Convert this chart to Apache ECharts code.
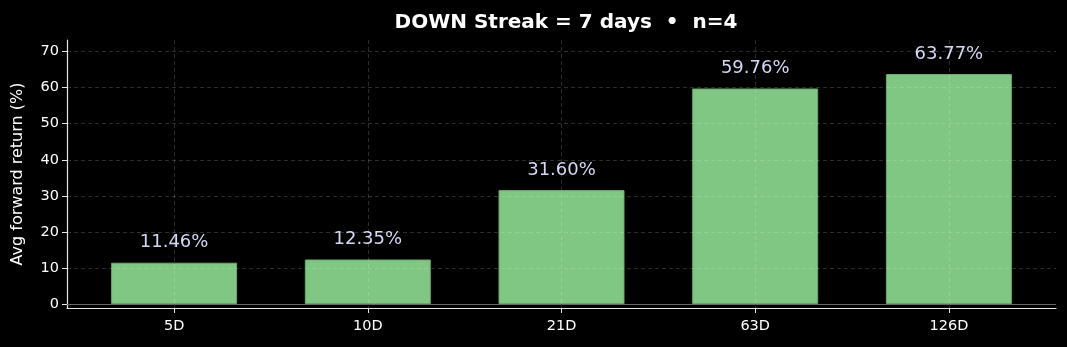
<!DOCTYPE html>
<html><head><meta charset="utf-8">
<script src="https://cdn.jsdelivr.net/npm/echarts@6/dist/echarts.min.js"></script>
<style>html,body{margin:0;padding:0;background:#000;}#c{width:1067px;height:347px;}</style>
</head><body><div id="c"></div>
<script>
const categories = ['5D', '10D', '21D', '63D', '126D'];
const values = [11.46, 12.35, 31.60, 59.76, 63.77];
const yTicks = [0, 10, 20, 30, 40, 50, 60, 70];
const titleText = 'DOWN Streak = 7 days  \u2022  n=4';
const yName = 'Avg forward return (%)';

const xIdx = categories.map((c, i) => i);
const font = 'DejaVu Sans';
const chart = echarts.init(document.getElementById('c'), null, {renderer: 'canvas'});
chart.setOption({
  backgroundColor: '#000000',
  animation: false,
  title: {
    text: titleText, left: 561, top: 8, textAlign: 'center',
    textStyle: {color: '#ffffff', fontFamily: font, fontSize: 20, fontWeight: 'bold'}
  },
  grid: {left: 67, right: 11, top: 40, bottom: 39, containLabel: false, outerBoundsMode: 'none'},
  xAxis: {
    type: 'value', min: -0.553, max: 4.553, z: 3,
    axisLine: {show: true, onZero: false, lineStyle: {color: '#e6e6e6', width: 1.2}},
    axisTick: {show: true, customValues: xIdx, length: 5, lineStyle: {color: '#e6e6e6'}},
    axisLabel: {customValues: xIdx, color: '#ffffff', fontFamily: font, fontSize: 14.5, margin: 11,
      formatter: v => categories[Math.round(v)]},
    splitLine: {show: true, customValues: xIdx, lineStyle: {color: 'rgba(255,255,255,0.22)', type: [4, 3], width: 0.8}}
  },
  yAxis: {
    type: 'value', min: -1.1, max: 73.2, z: 3,
    name: yName, nameLocation: 'middle', nameGap: 41, nameRotate: 90,
    nameTextStyle: {color: '#ffffff', fontFamily: font, fontSize: 16},
    axisLine: {show: true, onZero: false, lineStyle: {color: '#e6e6e6', width: 1.2}},
    axisTick: {show: true, customValues: yTicks, length: 5, lineStyle: {color: '#e6e6e6'}},
    axisLabel: {customValues: yTicks, color: '#ffffff', fontFamily: font, fontSize: 14.5, margin: 8},
    splitLine: {show: true, customValues: yTicks, lineStyle: {color: 'rgba(255,255,255,0.22)', type: [4, 3], width: 0.8}}
  },
  series: [{
    type: 'bar',
    data: values.map((v, i) => [i, v]),
    barWidth: 126,
    itemStyle: {color: '#81c784', borderColor: '#6aa86d', borderWidth: 1},
    label: {show: true, position: 'top', distance: 11, color: '#d6d6f5', fontFamily: font, fontSize: 18,
      formatter: p => p.value[1].toFixed(2) + '%'},
    markLine: {
      silent: true, symbol: 'none', label: {show: false},
      lineStyle: {color: '#666666', type: 'solid', width: 1},
      data: [{yAxis: 0}]
    }
  }]
});
</script></body></html>
